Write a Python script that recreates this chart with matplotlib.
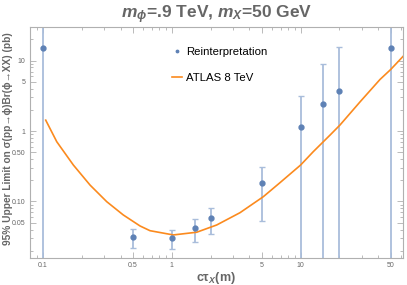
import matplotlib.pyplot as plt
from matplotlib.ticker import FixedLocator, FixedFormatter, LogLocator, NullFormatter

plt.rcParams['font.family'] = ['Liberation Sans', 'DejaVu Sans']
plt.rcParams['mathtext.fontset'] = 'custom'
plt.rcParams['mathtext.rm'] = 'Liberation Sans'
plt.rcParams['mathtext.it'] = 'Liberation Sans:italic'
plt.rcParams['mathtext.bf'] = 'Liberation Sans:bold'
plt.rcParams['mathtext.bfit'] = 'Liberation Sans:italic:bold'
plt.rcParams['mathtext.fallback'] = 'stixsans'

# Reinterpretation points (lower/upper limits of error bars; huge values = unbounded)
ctau = [0.1, 0.5, 1, 1.5, 2, 5, 10, 15, 20, 50]
limit = [15, 0.031, 0.030, 0.042, 0.058, 0.181, 1.14, 2.44, 3.69, 15]
err_lo = [1e-4, 0.022, 0.021, 0.027, 0.035, 0.053, 1e-4, 1e-4, 1e-4, 1e-4]
err_hi = [1e4, 0.041, 0.039, 0.056, 0.081, 0.31, 3.1, 8.9, 15.7, 1e4]

# ATLAS 8 TeV curve
atlas_x = [0.105, 0.128, 0.172, 0.232, 0.3125, 0.420, 0.567, 0.677, 1.027, 1.56,
           2.23, 3.38, 5.13, 6.91, 10.0, 12.5, 16.9, 20.2, 28.9, 41.3, 50.0, 62.6]
atlas_y = [1.43, 0.705, 0.330, 0.171, 0.0994, 0.0644, 0.0449, 0.0385, 0.0335, 0.0366,
           0.0464, 0.0693, 0.117, 0.185, 0.330, 0.508, 0.877, 1.22, 2.60, 5.41, 7.50, 11.6]

xticks = [0.1, 0.5, 1, 5, 10, 50]
xticklabels = ['0.1', '0.5', '1', '5', '10', '50']
yticks = [0.05, 0.1, 0.5, 1, 5, 10]
yticklabels = ['0.05', '0.10', '0.50', '1', '5', '10']

blue = '#5E81B5'
bar_col = '#A9BDDB'
orange = '#FB8A1E'
gray = '#666666'

fig = plt.figure(figsize=(4.07, 2.85), dpi=100)
ax = fig.add_axes([0.0725, 0.095, 0.9175, 0.81])

yerr = [[l - e for l, e in zip(limit, err_lo)], [e - l for l, e in zip(limit, err_hi)]]
ax.errorbar(ctau, limit, yerr=yerr, fmt='none', ecolor=bar_col, elinewidth=1.3,
            capsize=2.5, capthick=1.0, zorder=2)
ax.plot(ctau, limit, 'o', color=blue, markersize=3.5, zorder=3, label='Reinterpretation')
ax.plot(atlas_x, atlas_y, color=orange, lw=1.2, zorder=2, label='ATLAS 8 TeV')

ax.set_xscale('log')
ax.set_yscale('log')
ax.set_xlim(0.0786, 62.2)
ax.set_ylim(0.0158, 30)

ax.xaxis.set_major_locator(FixedLocator(xticks))
ax.xaxis.set_major_formatter(FixedFormatter(xticklabels))
ax.yaxis.set_major_locator(FixedLocator(yticks))
ax.yaxis.set_major_formatter(FixedFormatter(yticklabels))
ax.xaxis.set_minor_locator(LogLocator(base=10, subs=range(1, 10)))
ax.yaxis.set_minor_locator(LogLocator(base=10, subs=range(1, 10)))
ax.xaxis.set_minor_formatter(NullFormatter())
ax.yaxis.set_minor_formatter(NullFormatter())

ax.tick_params(which='both', direction='in', top=True, right=True,
               color='#B0B0B0', labelsize=5, labelcolor=gray, width=0.6)
ax.tick_params(which='major', length=4, pad=3)
ax.tick_params(which='minor', length=2)
for s in ax.spines.values():
    s.set_color('#B0B0B0')
    s.set_linewidth(0.8)

ax.set_title(r'$\mathbfit{m}_{\mathbfit{\phi}}$=.9 TeV, $\mathbfit{m}_{\mathbfit{X}}$=50 GeV',
             color=gray, fontsize=12.5, fontweight='bold', pad=6)
ax.set_xlabel(r'c$\mathbf{\tau}_{\mathbfit{X}}$(m)', color=gray, fontsize=9,
              fontweight='bold')
ax.xaxis.set_label_coords(0.5, -0.052)
ax.set_ylabel('95% Upper Limit on σ(pp→ϕ)Br(ϕ→XX) (pb)',
              color=gray, fontsize=7.3, fontweight='bold')
ax.yaxis.set_label_coords(-0.045, 0.515)

ax.legend(loc='upper left', bbox_to_anchor=(0.365, 0.94), frameon=False, fontsize=8.2,
          handlelength=0.9, handletextpad=0.4, borderpad=0, markerscale=0.5,
          labelspacing=1.45)

fig.savefig('out.png', dpi=100)
